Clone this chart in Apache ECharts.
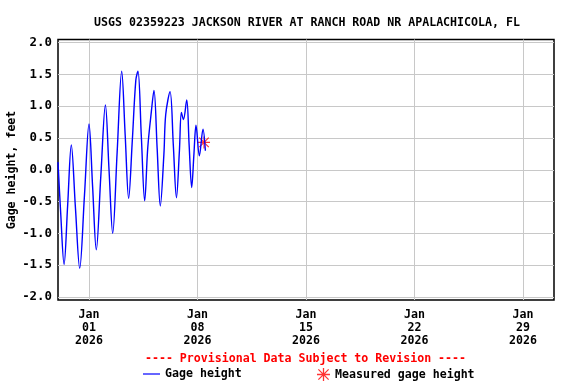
<!DOCTYPE html>
<html>
<head>
<meta charset="utf-8">
<script src="https://cdn.jsdelivr.net/npm/echarts@6/dist/echarts.min.js"></script>
<style>html,body{margin:0;padding:0;background:#fff}#c{width:576px;height:384px}</style>
</head>
<body>
<div id="c"></div>
<script>
// x values: hours since 2026-01-01 00:00 ; y values: gage height, feet
var gageHours = [-48, -44, -38.6, -33, -27.4, -21, -14.4, -7, 0, 5.6, 11.3, 18.3, 25.4, 31, 36.7, 43.6, 50.6, 56, 61.4, 67, 72.5, 75.8, 81, 86.2, 91, 96.5, 100.6, 105.5, 110.4, 116, 118.8, 125.5, 130.5, 135.4, 140, 143.1, 146.2, 151.3, 155, 159.0, 162.5, 165.7, 170.9, 176.5, 180.2];
var gageValues = [0.12, -0.65, -1.49, -0.55, 0.39, -0.6, -1.55, -0.4, 0.72, -0.27, -1.26, -0.1, 1.02, 0.0, -1.0, 0.28, 1.55, 0.55, -0.45, 0.45, 1.41, 1.55, 0.53, -0.49, 0.35, 0.91, 1.25, 0.34, -0.57, 0.25, 0.87, 1.23, 0.4, -0.44, 0.3, 0.9, 0.79, 1.1, 0.4, -0.28, 0.25, 0.70, 0.22, 0.64, 0.30];
var measuredHours = [178.1];
var measuredValues = [0.43];
var xTickHours = [0, 168, 336, 504, 672];
var xTickLabels = ['Jan\n01\n2026', 'Jan\n08\n2026', 'Jan\n15\n2026', 'Jan\n22\n2026', 'Jan\n29\n2026'];
var yTicks = [-2.0, -1.5, -1.0, -0.5, 0.0, 0.5, 1.0, 1.5, 2.0];
var yAxisTitle = 'Gage height, feet';

var FONT = 'DejaVu Sans Mono';
var gageData = gageHours.map(function (h, i) { return [h, gageValues[i]]; });
var measData = measuredHours.map(function (h, i) { return [h, measuredValues[i]]; });
var star = 'path://M9,0H11V20H9Z M0,9H20V11H0Z M1.4,2.8L2.8,1.4L18.6,17.2L17.2,18.6Z M17.2,1.4L18.6,2.8L2.8,18.6L1.4,17.2Z';

var chart = echarts.init(document.getElementById('c'), null, {renderer: 'canvas'});
chart.setOption({
  animation: false,
  backgroundColor: '#fff',
  title: [{
    text: 'USGS 02359223 JACKSON RIVER AT RANCH ROAD NR APALACHICOLA, FL',
    left: 302, top: 12, textAlign: 'center',
    textStyle: {fontFamily: FONT, fontWeight: 'bold', fontSize: 11.6, color: '#000'}
  }, {
    text: '---- Provisional Data Subject to Revision ----',
    left: 300.5, top: 348, textAlign: 'center',
    textStyle: {fontFamily: FONT, fontWeight: 'bold', fontSize: 11.6, color: '#ff0000'}
  }],
  graphic: [{
    type: 'text', x: 12, y: 170, rotation: Math.PI / 2,
    style: {text: yAxisTitle, align: 'center', verticalAlign: 'middle',
      fontFamily: FONT, fontWeight: 'bold', fontSize: 11.6, fill: '#000'}
  }],
  legend: [{
    data: [{name: 'Gage height', icon: 'rect'}],
    left: 138, top: 363, itemWidth: 17, itemHeight: 1.2, itemGap: 0,
    textStyle: {fontFamily: FONT, fontWeight: 'bold', fontSize: 11.6, color: '#000'}
  }, {
    data: [{name: 'Measured gage height', icon: star}],
    left: 312, top: 363, itemWidth: 13, itemHeight: 13, itemGap: 0,
    textStyle: {fontFamily: FONT, fontWeight: 'bold', fontSize: 11.6, color: '#000'}
  }],
  grid: {left: 58, right: 22, top: 39.5, bottom: 84, outerBoundsMode: 'none', containLabel: false,
    show: true, borderColor: '#000', borderWidth: 1.5, backgroundColor: 'transparent'},
  xAxis: {
    type: 'value', min: -48, max: 720,
    axisLine: {show: false}, axisTick: {show: false, customValues: xTickHours},
    splitLine: {show: true, lineStyle: {color: '#c8c8c8', width: 1}},
    axisLabel: {
      customValues: xTickHours, margin: 8, lineHeight: 13,
      fontFamily: FONT, fontWeight: 'bold', fontSize: 11.6, color: '#000',
      formatter: function (v) { var i = xTickHours.indexOf(v); return i >= 0 ? xTickLabels[i] : ''; }
    }
  },
  yAxis: {
    type: 'value', min: -2.05, max: 2.05,
    axisLine: {show: false}, axisTick: {show: false, customValues: yTicks},
    splitLine: {show: true, lineStyle: {color: '#c8c8c8', width: 1}},
    axisLabel: {
      customValues: yTicks, margin: 6,
      fontFamily: FONT, fontWeight: 'bold', fontSize: 12.4, color: '#000',
      formatter: function (v) { return v.toFixed(1); }
    }
  },
  series: [{
    name: 'Gage height', type: 'line', data: gageData, showSymbol: false, smooth: 0.35,
    lineStyle: {color: '#0000ff', width: 1.4}, itemStyle: {color: '#0000ff'}
  }, {
    name: 'Measured gage height', type: 'scatter', data: measData, symbol: star, symbolSize: 12,
    itemStyle: {color: '#ff0000'}
  }]
});
</script>
</body>
</html>
